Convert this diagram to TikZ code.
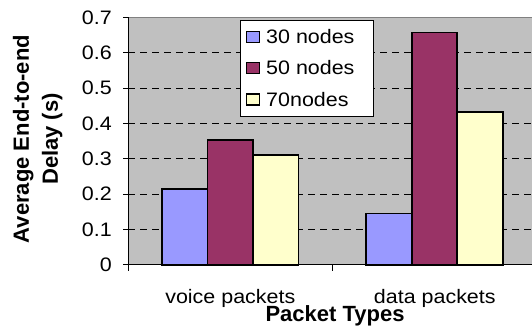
\documentclass[tikz,border=0pt]{standalone}
\usepackage{fontspec}
\setmainfont{Liberation Sans}
\definecolor{plotgray}{HTML}{C0C0C0}
\definecolor{cthirty}{HTML}{9999FF}
\definecolor{cfifty}{HTML}{993366}
\definecolor{cseventy}{HTML}{FFFFCC}
\definecolor{framegray}{HTML}{808080}
\begin{document}
\begin{tikzpicture}[x=1pt,y=-1pt,
  lbl/.style={font=\fontsize{19.5}{23}\selectfont, inner sep=0pt, xscale=1.1},
  boldlbl/.style={font=\bfseries\fontsize{22}{29}\selectfont, inner sep=0pt},
  bar/.style={draw=black, line width=1.6pt},
  gridline/.style={black, line width=0.8pt, dash pattern=on 7pt off 5pt},
  keybox/.style={draw=black, line width=1.2pt, minimum width=12.8pt, minimum height=11.1pt, inner sep=0pt},
]
\useasboundingbox (0,0) rectangle (532,326);
% plot area
\fill[plotgray] (128,17.5) rectangle (532,264.7);
\draw[framegray, line width=1pt] (128,17.5) -- (532,17.5);
\foreach \i in {1,...,6} {
  \draw[gridline] (128,{264.7-\i*35.31}) -- (532,{264.7-\i*35.31});
}
% bars: voice packets
\filldraw[bar, fill=cthirty]  (162.1,264.7) rectangle (207.6,188.8);
\filldraw[bar, fill=cfifty]   (207.6,264.7) rectangle (253.1,139.7);
\filldraw[bar, fill=cseventy] (253.1,264.7) rectangle (298.6,154.9);
% bars: data packets
\filldraw[bar, fill=cthirty]  (366.2,264.7) rectangle (411.7,213.5);
\filldraw[bar, fill=cfifty]   (411.7,264.7) rectangle (457.2,32.4);
\filldraw[bar, fill=cseventy] (457.2,264.7) rectangle (502.7,112.2);
% axes
\draw[black, line width=1pt] (128,17.5) -- (128,264.7) -- (532,264.7);
\foreach \i in {0,...,7} {
  \draw[black, line width=1pt] (123,{264.7-\i*35.31}) -- (128,{264.7-\i*35.31});
}
\foreach \x in {128,332.7} {
  \draw[black, line width=1pt] (\x,264.7) -- (\x,271);
}
% tick labels
\node[lbl, anchor=east] (t0) at (112,264.7) {0};
\node[lbl, anchor=east] (t1) at (112,229.4) {0.1};
\node[lbl, anchor=east] (t2) at (112,194.1) {0.2};
\node[lbl, anchor=east] (t3) at (112,158.8) {0.3};
\node[lbl, anchor=east] (t4) at (112,123.5) {0.4};
\node[lbl, anchor=east] (t5) at (112,88.1) {0.5};
\node[lbl, anchor=east] (t6) at (112,52.8) {0.6};
\node[lbl, anchor=east] (t7) at (112,17.5) {0.7};
% legend
\node[draw=black, fill=white, line width=0.8pt, minimum width=133.3pt, minimum height=95.7pt, inner sep=0pt, anchor=north west] (legend) at (240,20) {};
\node[keybox, fill=cthirty]  (k30) at (253,37.2) {};
\node[keybox, fill=cfifty]   (k50) at (253,68.0) {};
\node[keybox, fill=cseventy] (k70) at (253,99.5) {};
\node[lbl, anchor=base west] (l30) at (266,43.3) {30 nodes};
\node[lbl, anchor=base west] (l50) at (266,74.3) {50 nodes};
\node[lbl, anchor=base west] (l70) at (266,106.2) {70nodes};
% category labels
\node[lbl, anchor=base] (cv) at (230.3,303.3) {voice packets};
\node[lbl, anchor=base] (cd) at (434.8,303.3) {data packets};
% axis titles
\node[boldlbl, anchor=base] (xt) at (335,321.7) {Packet Types};
\node[boldlbl, rotate=90, align=center] (yt) at (37.8,139) {Average End-to-end\\Delay (s)};
\end{tikzpicture}
\end{document}
